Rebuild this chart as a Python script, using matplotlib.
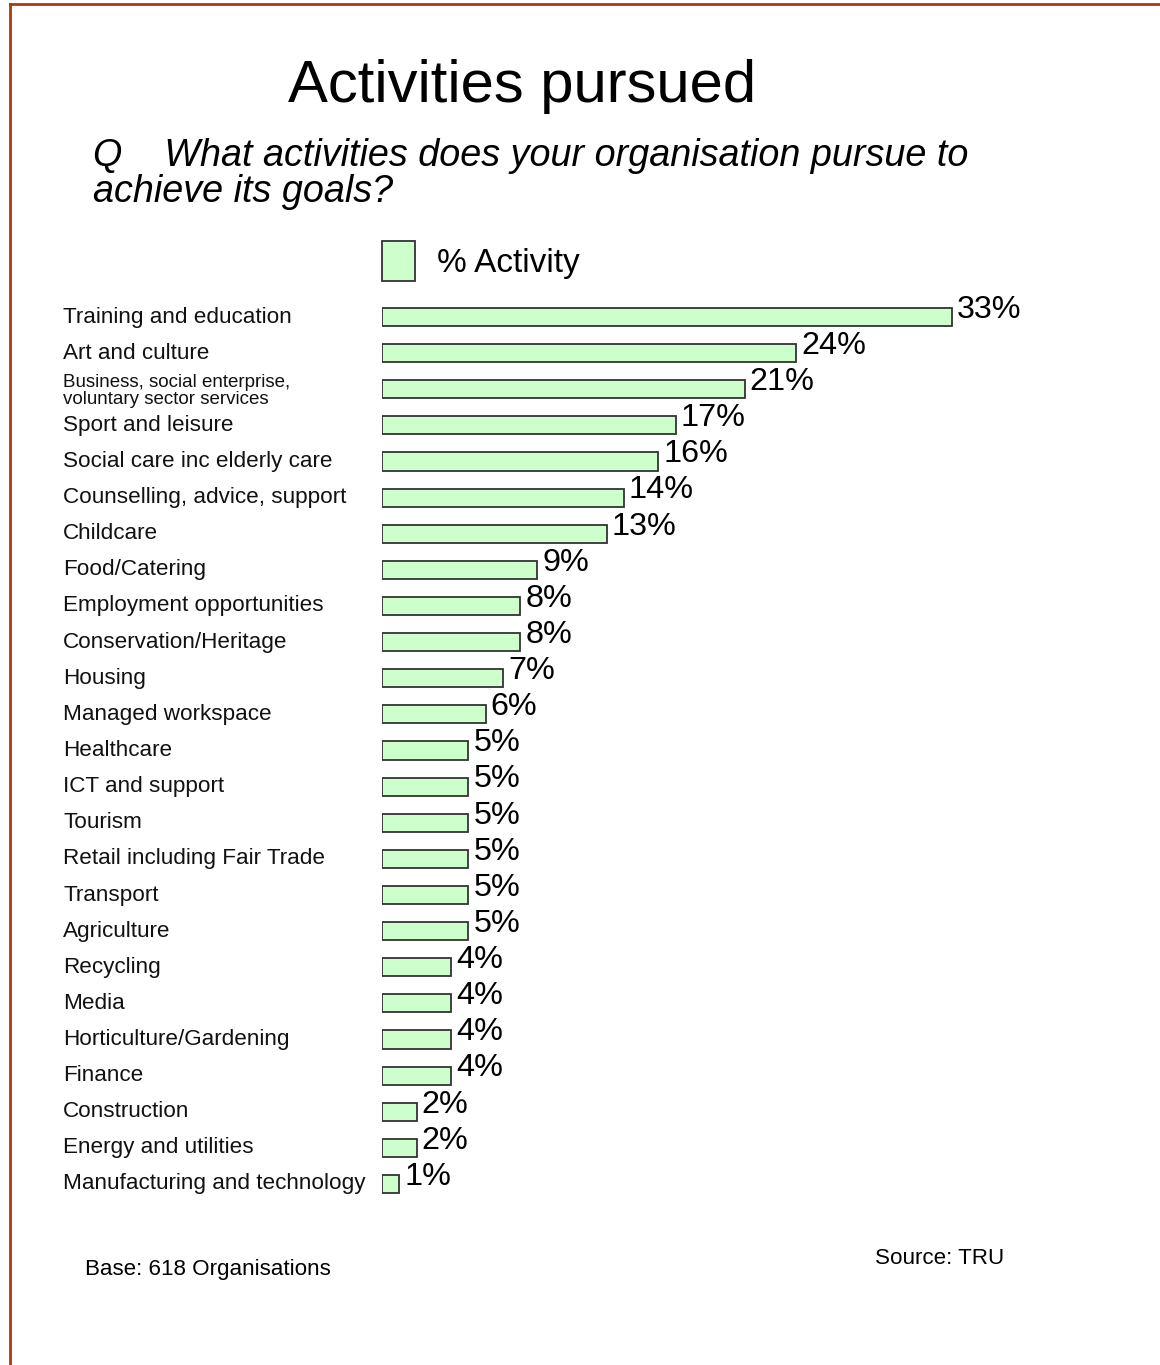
import matplotlib.pyplot as plt
from matplotlib.patches import Patch
from matplotlib.lines import Line2D

# survey results, % of organisations pursuing each activity
activities = [
    'Training and education', 'Art and culture',
    'Business, social enterprise,\nvoluntary sector services',
    'Sport and leisure', 'Social care inc elderly care',
    'Counselling, advice, support', 'Childcare', 'Food/Catering',
    'Employment opportunities', 'Conservation/Heritage', 'Housing',
    'Managed workspace', 'Healthcare', 'ICT and support', 'Tourism',
    'Retail including Fair Trade', 'Transport', 'Agriculture', 'Recycling',
    'Media', 'Horticulture/Gardening', 'Finance', 'Construction',
    'Energy and utilities', 'Manufacturing and technology',
]
pct = [33, 24, 21, 17, 16, 14, 13, 9, 8, 8, 7, 6, 5, 5, 5, 5, 5, 5,
       4, 4, 4, 4, 2, 2, 1]

W, H = 1160, 1365
plt.rcParams['font.family'] = ['Liberation Sans', 'DejaVu Sans']
fig = plt.figure(figsize=(W / 100, H / 100), dpi=100)

bar_fc = '#ccffcc'
bar_ec = '#333333'

# axes placed in pixel terms: x=0 at 382px, 17.27px per percent
x0, px_per = 382, 17.27
xmax = 40
top, step = 317 - 36.125 / 2, 36.125
n = len(pct)
ax = fig.add_axes([x0 / W, 1 - (top + n * step) / H,
                   xmax * px_per / W, n * step / H])
ys = list(range(n))
ax.barh(ys, pct, height=0.5, color=bar_fc, edgecolor=bar_ec, linewidth=1.3)
ax.set_xlim(0, xmax)
ax.set_ylim(n - 0.5, -0.5)
ax.axis('off')

for y, v in zip(ys, pct):
    ax.text(v + 0.3, y - 0.2, f'{v}%', fontsize=23.3, va='center',
            ha='left', color='black')

# category names down the left
lab_x = -(x0 - 63) / (xmax * px_per)
for y, name in zip(ys, activities):
    if '\n' in name:
        ax.text(lab_x, y + 0.05, name, transform=ax.get_yaxis_transform(),
                fontsize=13.5, va='center', ha='left', linespacing=0.95,
                color='#111111')
    else:
        ax.text(lab_x, y, name, transform=ax.get_yaxis_transform(),
                fontsize=16.2, va='center', ha='left', color='#111111')

fig.text(522 / W, 1 - 86 / H, 'Activities pursued', fontsize=43,
         ha='center', va='center')
fig.text(93 / W, 1 - 174 / H,
         'Q    What activities does your organisation pursue to\nachieve its goals?',
         fontsize=27.2, style='italic', ha='left', va='center', linespacing=0.97)

# legend swatch
leg = fig.legend(handles=[Patch(facecolor=bar_fc, edgecolor=bar_ec,
                                linewidth=1.3, label='% Activity')],
                 loc='center left', bbox_to_anchor=(352 / W, 1 - 261 / H),
                 frameon=False, fontsize=24, handlelength=1.0,
                 handleheight=1.45, handletextpad=0.65)

fig.text(85 / W, 1 - 1269 / H, 'Base: 618 Organisations', fontsize=16.1,
         ha='left', va='center')
fig.text(875 / W, 1 - 1259 / H, 'Source: TRU', fontsize=16.1,
         ha='left', va='center')

# page frame
frame = '#a83a12'
fig.add_artist(Line2D([9.5 / W, 9.5 / W], [0, 1 - 4 / H], color=frame, lw=2))
fig.add_artist(Line2D([9.5 / W, 1], [1 - 4 / H, 1 - 4 / H], color=frame, lw=2))

fig.savefig('out.png', dpi=100)
